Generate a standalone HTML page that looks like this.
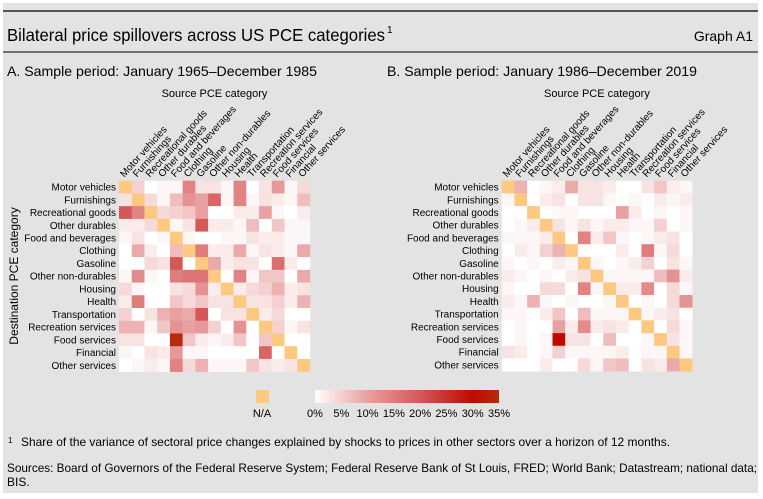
<!DOCTYPE html>
<html><head><meta charset="utf-8"><style>
html,body{margin:0;padding:0;background:#fff;}
svg{display:block;font-family:"Liberation Sans",sans-serif;}
</style></head><body>
<svg id="chart" width="763" height="499" viewBox="0 0 763 499" xmlns="http://www.w3.org/2000/svg">
<rect x="3" y="3" width="755" height="490" fill="#e3e3e3"/>
<line x1="3" y1="11" x2="758" y2="11" stroke="#000" stroke-width="1.2"/>
<text x="7" y="41" font-size="17.5" textLength="378" lengthAdjust="spacingAndGlyphs">Bilateral price spillovers across US PCE categories</text>
<text x="387" y="33" font-size="10">1</text>
<text x="753" y="41" font-size="14" text-anchor="end">Graph A1</text>
<line x1="3" y1="52" x2="758" y2="52" stroke="#000" stroke-width="1"/>
<text x="7" y="76" font-size="14" textLength="310" lengthAdjust="spacingAndGlyphs">A. Sample period: January 1965–December 1985</text>
<text x="387" y="76" font-size="14" textLength="310" lengthAdjust="spacingAndGlyphs">B. Sample period: January 1986–December 2019</text>
<g id="pa"></g>
<g id="pb"></g>
<text x="18" y="276" font-size="12" text-anchor="middle" transform="rotate(-90 18 276)">Destination PCE category</text>
<rect x="256" y="390" width="13" height="13" fill="#fdc880"/>
<text x="262" y="417" font-size="11" text-anchor="middle">N/A</text>
<defs><linearGradient id="grad" x1="0" x2="1" y1="0" y2="0">
<stop offset="0" stop-color="#ffffff"/><stop offset="0.286" stop-color="#e9a0a0"/><stop offset="0.571" stop-color="#d45858"/><stop offset="0.857" stop-color="#c00a00"/><stop offset="1" stop-color="#b82a10"/></linearGradient></defs>
<rect x="315" y="390" width="184" height="13" fill="url(#grad)"/>
<g id="legticks"></g>
<text x="8" y="443" font-size="8">1</text>
<text x="21" y="446" font-size="12" textLength="649" lengthAdjust="spacingAndGlyphs">Share of the variance of sectoral price changes explained by shocks to prices in other sectors over a horizon of 12 months.</text>
<text x="7" y="472" font-size="12" textLength="750" lengthAdjust="spacingAndGlyphs">Sources: Board of Governors of the Federal Reserve System; Federal Reserve Bank of St Louis, FRED; World Bank; Datastream; national data;</text>
<text x="7" y="486" font-size="12">BIS.</text>
</svg>
<script>
const categories = ["Motor vehicles","Furnishings","Recreational goods","Other durables","Food and beverages","Clothing","Gasoline","Other non-durables","Housing","Health","Transportation","Recreation services","Food services","Financial","Other services"];
const legendTicks = [0,5,10,15,20,25,30,35];
const valuesA = [
[null,5,0,1,1,14,3,3,1,14,0,3,11,1,4],
[3,null,4,1,7,12,10,18,1,14,1,3,2,1,7],
[20,14,null,4,5,6,10,0,0,2,2,10,1,0,2],
[2,2,4,null,1,3,20,2,2,1,7,0,6,1,1],
[1,3,0,1,null,1,0,0,1,1,3,2,2,1,1],
[0,9,2,0,7,null,15,2,2,9,1,3,2,1,9],
[0,0,4,3,20,0,null,9,2,3,3,0,17,2,0],
[1,13,1,0,15,16,16,null,0,14,1,6,6,0,9],
[4,1,0,0,3,4,12,2,null,2,4,5,8,2,3],
[2,15,0,0,6,4,6,3,3,null,3,3,5,2,8],
[5,0,3,8,10,9,20,0,3,3,null,2,4,0,0],
[8,8,1,6,12,10,11,5,0,12,0,null,5,1,3],
[3,3,0,0,35,6,2,1,2,6,0,6,null,0,0],
[1,0,3,2,11,1,1,0,0,0,0,18,0,null,0],
[0,1,2,1,14,4,8,1,1,1,6,3,2,3,null]];
const valuesB = [
[null,8,0,1,2,9,3,3,2,0,0,3,6,2,1],
[1,null,0,2,3,0,3,3,1,0,1,0,2,1,2],
[0,0,null,0,1,1,0,0,0,10,2,0,1,0,1],
[0,1,2,null,3,1,3,1,2,2,1,1,5,0,1],
[1,1,1,2,null,0,14,2,6,1,0,1,2,3,0],
[0,2,1,5,8,null,0,0,0,2,0,15,1,4,0],
[1,0,1,0,2,1,null,1,0,1,2,5,0,3,1],
[2,1,0,1,0,2,3,null,1,1,1,1,7,12,2],
[1,0,0,4,4,0,14,1,null,2,2,13,0,4,1],
[2,1,8,1,0,1,0,0,1,null,0,1,0,4,12],
[1,1,0,2,6,0,7,1,1,1,null,1,2,3,0],
[0,1,0,0,10,2,13,2,3,2,0,null,0,4,1],
[0,1,0,1,30,3,3,0,7,0,0,1,null,3,1],
[3,2,0,1,5,1,1,1,1,2,0,1,1,null,1],
[0,0,0,2,0,0,4,1,6,7,0,3,2,9,null]];

const NS="http://www.w3.org/2000/svg";
const stops=[[0,[255,255,255]],[10,[233,160,160]],[20,[212,88,88]],[30,[192,10,0]],[35,[184,42,16]]];
function color(v){
  v=Math.max(0,Math.min(35,v));
  for(let i=1;i<stops.length;i++){
    if(v<=stops[i][0]){const a=stops[i-1],b=stops[i];const t=(v-a[0])/(b[0]-a[0]);
      const c=a[1].map((x,k)=>Math.round(x+(b[1][k]-x)*t));return `rgb(${c[0]},${c[1]},${c[2]})`;}
  }
  return "rgb(184,42,16)";
}
function mk(tag,attrs,parent){const e=document.createElementNS(NS,tag);for(const k in attrs)e.setAttribute(k,attrs[k]);parent.appendChild(e);return e;}
function drawPanel(g,vals,x0,y0,cell,key){
  const n=categories.length;
  const xs=i=>x0+i*cell, ys=j=>y0+j*cell;
  const st=mk("text",{x:x0+n*cell/2,y:97,"font-size":11,"text-anchor":"middle"},g);
  st.textContent="Source PCE category";
  
  
  categories.forEach((c,i)=>{
    const cx=xs(i)+cell/2-1, cy=y0-3;
    const t=mk("text",{x:cx,y:cy,"font-size":10,transform:`rotate(-48 ${cx} ${cy})`},g);
    t.textContent=c;
    
    
    const r=mk("text",{x:x0-3,y:ys(i)+cell/2+3.5,"font-size":10,"text-anchor":"end"},g);
    r.textContent=c;
    
    
  });
  vals.forEach((row,j)=>row.forEach((v,i)=>{
    const r=mk("rect",{x:xs(i),y:ys(j),width:cell+0.3,height:cell+0.3,fill:v===null?"#fdc880":color(v)},g);
    
    
  }));
}
drawPanel(document.getElementById("pa"),valuesA,119,180.7,12.73,"panel-a");
drawPanel(document.getElementById("pb"),valuesB,501.7,180.7,12.7,"panel-b");
const lg=document.getElementById("legticks");
legendTicks.forEach(v=>{
  const t=mk("text",{x:315+v/35*184,y:417,"font-size":11,"text-anchor":"middle"},lg);
  t.textContent=v+"%";
  
  
});
</script>
</body></html>
